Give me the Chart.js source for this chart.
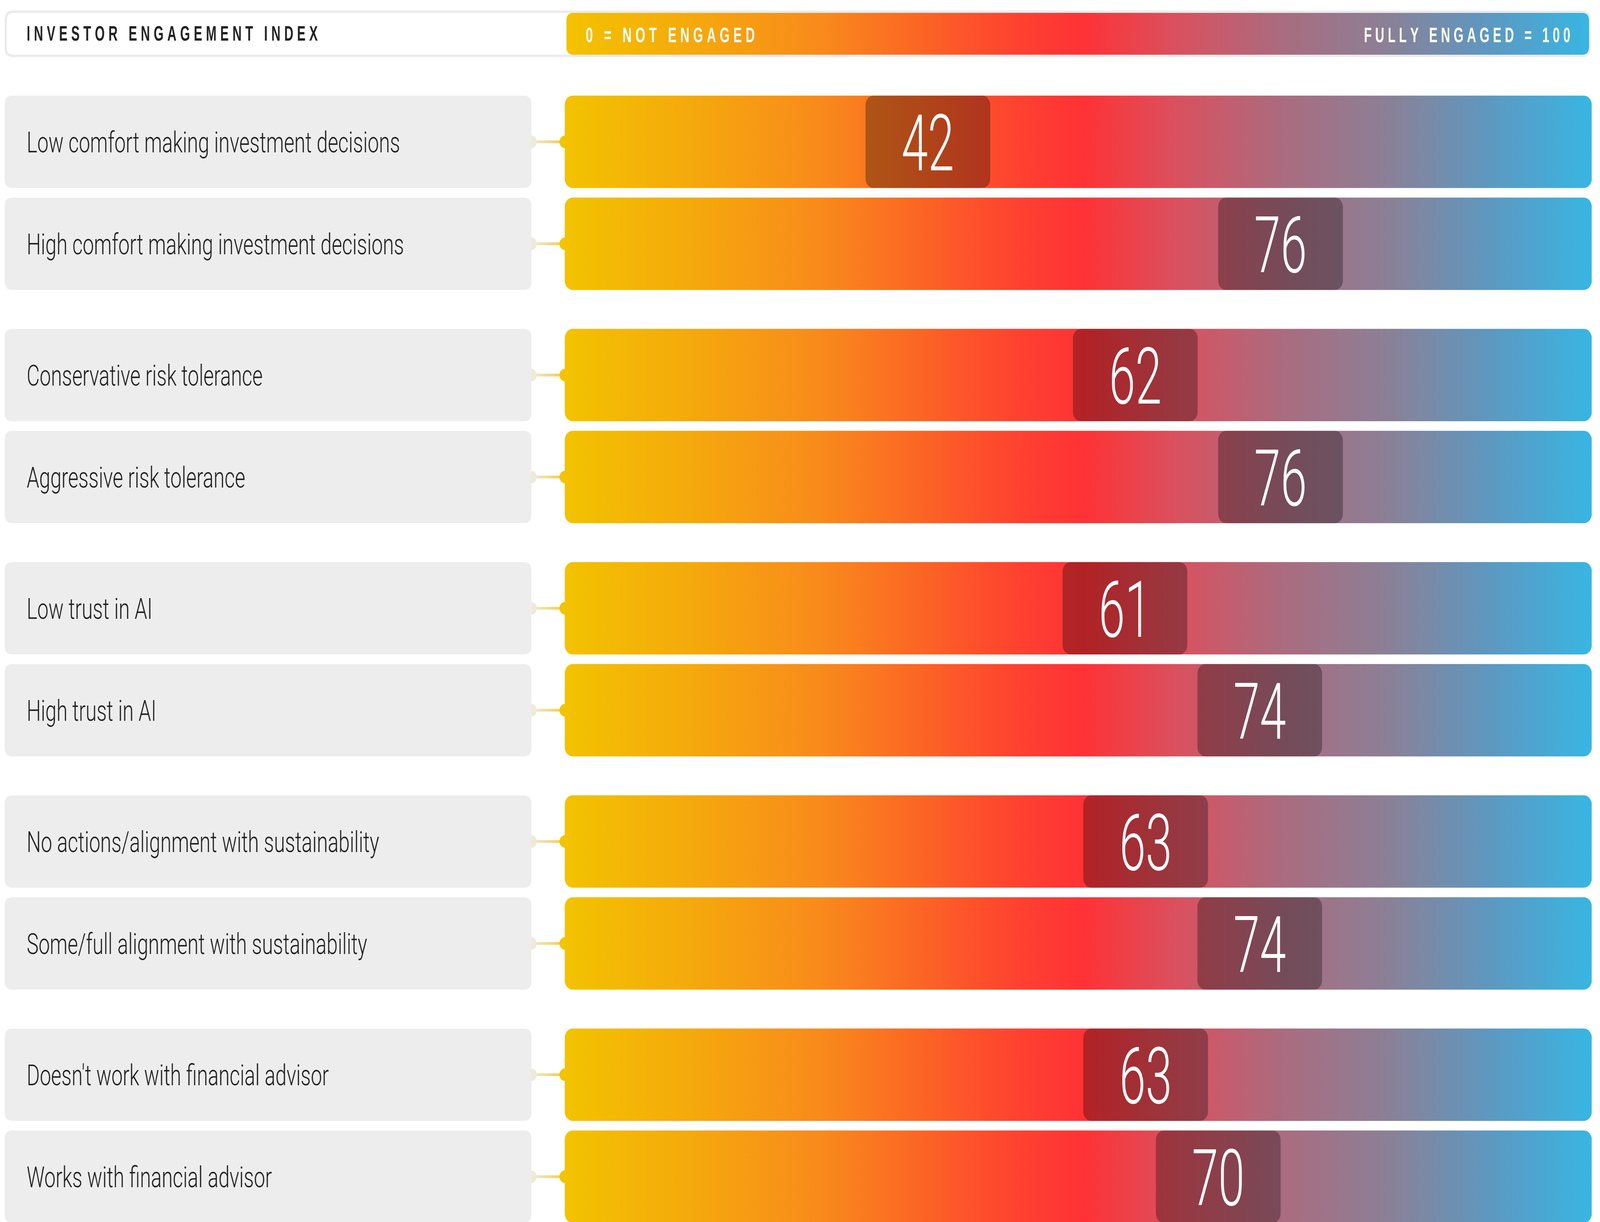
<!DOCTYPE html>
<html>
<head>
<meta charset="utf-8">
<title>Investor Engagement Index</title>
<script src="https://cdn.jsdelivr.net/npm/chart.js@4"></script>
<style>
  html, body { margin: 0; padding: 0; background: #ffffff; overflow: hidden; }
  #frame { position: fixed; left: 0; top: 0; width: 100vw; height: 100vh; overflow: hidden; }
  #stage { position: absolute; left: 0; top: 0; width: 4799px; height: 3128px; transform-origin: 0 0; }
</style>
</head>
<body>
<div id="frame"><div id="stage"><canvas id="c"></canvas></div></div>
<script>
// ---------------- data ----------------
const title = 'INVESTOR ENGAGEMENT INDEX';
const scaleMinLabel = '0 = NOT ENGAGED';
const scaleMaxLabel = 'FULLY ENGAGED = 100';
const groups = ['Comfort making investment decisions', 'Risk tolerance', 'Trust in AI', 'Sustainability', 'Financial advisor'];
const segments = [
  'Low comfort making investment decisions',
  'High comfort making investment decisions',
  'Conservative risk tolerance',
  'Aggressive risk tolerance',
  'Low trust in AI',
  'High trust in AI',
  'No actions/alignment with sustainability',
  'Some/full alignment with sustainability',
  "Doesn't work with financial advisor",
  'Works with financial advisor'
];
const segmentGroup = [0, 0, 1, 1, 2, 2, 3, 3, 4, 4];
const scores = [42, 76, 62, 76, 61, 74, 63, 74, 63, 70];
const scaleMin = 0;
const scaleMax = 100;

// ---------------- layout / style constants ----------------
const W = 4799, H = 3128;
(function fit() {
  const sx = window.innerWidth / W, sy = window.innerHeight / H;
  document.getElementById('stage').style.transform = 'scale(' + sx + ',' + sy + ')';
})();
const ROW_PX = 261;
const FIRST_CENTER = 363;
const GROUP_GAP = 75 / 261;
const BAR_THICK = 236;
const BOX_SPAN = 12;          // badge width, scale units
const TRACK_START = 1;        // track begins just right of 0
const PLOT_LEFT = 1663, PLOT_RIGHT_PAD = 25;
const LABEL_X0 = 14, LABEL_X1 = 1594;

const gradStops = [
  [0, '#f3c300'], [0.12, '#f5aa0c'], [0.25, '#f98a1c'], [0.35, '#fc6425'],
  [0.44, '#fe4230'], [0.505, '#ff3236'], [0.6, '#d85260'], [0.7, '#aa6c80'],
  [0.8, '#8c8096'], [0.9, '#5e98c0'], [1, '#38b6e3']
];
function makeGrad(ctx, x0, x1) {
  const g = ctx.createLinearGradient(x0, 0, x1, 0);
  gradStops.forEach(s => g.addColorStop(s[0], s[1]));
  return g;
}
function rr(ctx, x, y, w, h, r) {
  ctx.beginPath();
  ctx.moveTo(x + r, y);
  ctx.lineTo(x + w - r, y);
  ctx.quadraticCurveTo(x + w, y, x + w, y + r);
  ctx.lineTo(x + w, y + h - r);
  ctx.quadraticCurveTo(x + w, y + h, x + w - r, y + h);
  ctx.lineTo(x + r, y + h);
  ctx.quadraticCurveTo(x, y + h, x, y + h - r);
  ctx.lineTo(x, y + r);
  ctx.quadraticCurveTo(x, y, x + r, y);
  ctx.closePath();
}
function fontFor(ctx, weight, family, sample, inkHeight) {
  ctx.font = weight + ' 100px ' + family;
  const m = ctx.measureText(sample);
  const a = (m.actualBoundingBoxAscent || 71.6);
  return weight + ' ' + (100 * inkHeight / a).toFixed(2) + 'px ' + family;
}
function spacedText(ctx, text, x, y, targetW, squeeze) {
  const chars = [...text];
  const widths = chars.map(c => ctx.measureText(c).width * squeeze);
  const sum = widths.reduce((a, b) => a + b, 0);
  const sp = chars.length > 1 ? (targetW - sum) / (chars.length - 1) : 0;
  let cx = x;
  chars.forEach((c, i) => {
    ctx.save();
    ctx.translate(cx, y);
    ctx.scale(squeeze, 1);
    ctx.fillText(c, 0, 0);
    ctx.restore();
    cx += widths[i] + sp;
  });
}

const rowPos = [];
(function () {
  const seen = {};
  segmentGroup.forEach((g, i) => {
    const r = seen[g] || 0; seen[g] = r + 1;
    rowPos.push(g * (2 + GROUP_GAP) + r);
  });
})();

const trackData = segments.map((s, i) => ({ x: [TRACK_START, scaleMax], y: rowPos[i] }));
const badgeData = scores.map((v, i) => ({ x: [v - BOX_SPAN, v], y: rowPos[i] }));

const HEAD_FAMILY = "'Liberation Sans', Arial, sans-serif";
const BODY_FAMILY = "Roboto, 'Liberation Sans', sans-serif";

const deco = {
  id: 'deco',
  beforeDatasetsDraw(chart) {
    const ctx = chart.ctx;
    ctx.save();
    // header
    ctx.fillStyle = '#ebebeb';
    rr(ctx, 14, 27, 4771 - 14, 146 - 27, 24); ctx.fill();
    ctx.fillStyle = '#ffffff';
    rr(ctx, 20, 33, 4765 - 20, 140 - 33, 20); ctx.fill();
    ctx.fillStyle = makeGrad(ctx, 1699, 4766);
    rr(ctx, 1699, 33, 4766 - 1699, 140 - 33, 20); ctx.fill();
    ctx.font = fontFor(ctx, 'bold', HEAD_FAMILY, 'N', 37);
    ctx.textBaseline = 'alphabetic';
    ctx.textAlign = 'left';
    ctx.fillStyle = '#222222';
    spacedText(ctx, title, 80, 104, 873, 0.72);
    ctx.fillStyle = '#ffffff';
    spacedText(ctx, scaleMinLabel, 1757, 108, 507, 0.72);
    spacedText(ctx, scaleMaxLabel, 4091, 108, 619, 0.72);

    // label boxes + connectors
    const meta = chart.getDatasetMeta(1);
    ctx.font = fontFor(ctx, '300', BODY_FAMILY, 'L', 53);
    const lscale = 1120 / ctx.measureText(segments[0]).width;
    meta.data.forEach((el, i) => {
      const p = el.getProps(['x', 'y', 'base', 'height'], true);
      const top = p.y - p.height / 2;
      const lg = ctx.createLinearGradient(LABEL_X1, 0, p.base, 0);
      lg.addColorStop(0, '#efe9d6'); lg.addColorStop(1, '#f1cc45');
      ctx.fillStyle = lg;
      ctx.fillRect(LABEL_X1, p.y - 3.5, p.base - LABEL_X1, 7);
      ctx.fillStyle = '#efe9d8';
      ctx.beginPath(); ctx.arc(LABEL_X1, p.y, 16, 0, Math.PI * 2); ctx.fill();
      ctx.fillStyle = '#f2c400';
      ctx.beginPath(); ctx.arc(p.base, p.y, 16, 0, Math.PI * 2); ctx.fill();
      ctx.fillStyle = '#ededed';
      rr(ctx, LABEL_X0, top, LABEL_X1 - LABEL_X0, p.height, 22); ctx.fill();
      ctx.fillStyle = '#1e1e1e';
      ctx.save();
      ctx.translate(80, p.y + 27);
      ctx.scale(lscale, 1);
      ctx.fillText(segments[i], 0, 0);
      ctx.restore();
    });
    ctx.restore();
  },
  afterDatasetsDraw(chart) {
    const ctx = chart.ctx;
    ctx.save();
    ctx.font = fontFor(ctx, '300', BODY_FAMILY, '4', 144);
    ctx.fillStyle = '#ffffff';
    ctx.textAlign = 'center';
    ctx.textBaseline = 'alphabetic';
    const vscale = 158 / ctx.measureText('42').width;
    const meta = chart.getDatasetMeta(0);
    meta.data.forEach((el, i) => {
      const p = el.getProps(['x', 'y', 'base'], true);
      const cx = (p.x + p.base) / 2;
      ctx.save();
      ctx.translate(cx, p.y + 73);
      ctx.scale(vscale, 1);
      ctx.fillText(String(scores[i]), 0, 0);
      ctx.restore();
    });
    ctx.restore();
  }
};

new Chart(document.getElementById('c'), {
  type: 'bar',
  data: {
    datasets: [
      {
        label: 'Engagement score',
        data: badgeData,
        backgroundColor: 'rgba(0,0,0,0.3)',
        borderRadius: 24,
        borderSkipped: false,
        barThickness: BAR_THICK,
        grouped: false,
        order: 0
      },
      {
        label: 'Scale',
        data: trackData,
        backgroundColor: (c) => {
          const ch = c.chart;
          if (!ch.chartArea || !ch.scales.x) return gradStops[0][1];
          return makeGrad(ch.ctx, ch.scales.x.getPixelForValue(TRACK_START), ch.scales.x.getPixelForValue(scaleMax));
        },
        borderRadius: 24,
        borderSkipped: false,
        barThickness: BAR_THICK,
        grouped: false,
        order: 1
      }
    ]
  },
  options: {
    indexAxis: 'y',
    responsive: true,
    maintainAspectRatio: false,
    animation: false,
    devicePixelRatio: 1,
    layout: { padding: { left: PLOT_LEFT, right: PLOT_RIGHT_PAD, top: 0, bottom: 0 } },
    plugins: { legend: { display: false }, tooltip: { enabled: false } },
    scales: {
      x: { type: 'linear', min: scaleMin, max: scaleMax, display: false },
      y: {
        type: 'linear', reverse: true, offset: false, display: false,
        min: -FIRST_CENTER / ROW_PX, max: (H - FIRST_CENTER) / ROW_PX
      }
    }
  },
  plugins: [deco]
});
</script>
</body>
</html>
